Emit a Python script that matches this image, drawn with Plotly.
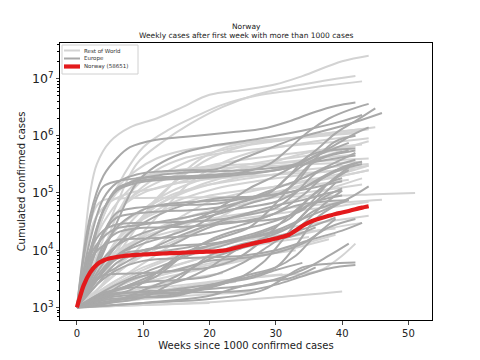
import plotly.graph_objects as go

# ---------------- data ----------------
norway_weeks = list(range(0, 45))
norway_cases = [1000, 2400, 4100, 5600, 6600, 7200, 7600, 7900, 8100, 8250,
                8400, 8500, 8650, 8750, 8850, 8950, 9050, 9150, 9250, 9350,
                9450, 9550, 9800, 10300, 11000, 11800, 12600, 13400, 14200, 15000,
                16000, 17100, 18600, 22000, 26500, 30500, 34000, 37000, 40000, 43000,
                45500, 48500, 52000, 55500, 58651]

rest_weeks = [
    [0, 1, 2, 3, 5, 8, 12, 16, 20, 25, 30, 34, 40, 44],
    [0, 2, 4, 6, 9, 13, 17, 22, 27, 32, 37, 42],
    [0, 2, 4, 7, 10, 14, 18, 22, 27, 33, 38, 43],
    [0, 2, 4, 6, 8, 12, 16, 20, 26, 32, 38, 45],
    [0, 3, 6, 9, 12, 16, 20, 25, 30, 35, 40, 43],
    [0, 3, 6, 10, 14, 18, 22, 27, 32, 37, 42],
    [0, 2, 4, 7, 10, 14, 18, 22, 28, 34, 40, 44],
    [0, 3, 6, 9, 13, 17, 21, 26, 31, 36, 42],
    [0, 2, 5, 8, 12, 16, 20, 25, 30, 36, 42],
    [0, 1, 2, 3, 5, 8, 12, 16, 20, 25, 30, 35, 40, 44],
    [0, 1, 2, 3, 4, 6, 10, 20, 30, 40, 45, 51],
    [0, 2, 5, 9, 14, 20, 26, 32, 38, 46],
    [0, 4, 8, 14, 20, 26, 32, 38, 43],
    [0, 5, 10, 20, 30, 35, 37, 40, 42],
    [0, 5, 10, 20, 30, 40],
    [0, 5, 10, 15, 20, 27],
    [0, 4, 8, 14, 20, 26, 32, 39],
    [0, 5, 10, 16, 22, 28, 33, 38],
    [0, 10, 20],
    [0, 4, 8, 12, 17, 22],
    [0, 5, 10, 15, 20, 25, 31],
    [0, 3, 6, 10, 15, 20, 25, 30, 35, 40, 43],
    [0, 2, 4, 7, 11, 15, 20, 26, 32, 38, 44],
    [0, 3, 6, 9, 13, 18, 24, 30, 36, 42],
    [0, 2, 4, 6, 9, 13, 18, 24, 30, 36, 43],
    [0, 1, 2, 4, 7, 10, 15, 20, 26, 32, 38, 44],
    [0, 3, 7, 11, 15, 20, 25, 30, 35, 40, 44],
    [0, 4, 8, 12, 16, 21, 26, 31, 36, 41],
    [0, 3, 6, 10, 14, 19, 24, 29, 34, 39, 43],
    [0, 2, 5, 8, 12, 17, 22, 28, 34, 40, 44],
    [0, 4, 9, 14, 20, 26, 32, 38, 44],
    [0, 3, 6, 10, 15, 21, 27, 33, 39],
    [0, 2, 4, 6, 10, 15, 20, 25, 30, 35, 40, 44],
    [0, 2, 4, 7, 10, 14, 19, 24, 30, 36, 42],
    [0, 3, 6, 9, 13, 18, 23, 28, 33, 38, 43],
    [0, 2, 4, 6, 9, 12, 16, 20, 25, 30, 35, 40, 44],
    [0, 3, 6, 9, 12, 16, 20, 24, 28, 32, 36, 40],
    [0, 5, 10, 15, 20, 25, 30, 35],
    [0, 4, 8, 12, 17, 22, 27, 33],
    [0, 6, 12, 18, 24],
    [0, 5, 10, 15],
    [0, 3, 6, 9, 12, 16, 20, 25, 30, 35, 40, 44],
    [0, 2, 5, 8, 12, 16, 21, 27, 33, 39, 44],
]
rest_cases = [
    [1000, 10000, 100000, 320000, 790000, 1400000, 2000000, 3200000, 5200000, 6300000, 7900000, 11000000, 20000000, 25000000],
    [1000, 4000, 16000, 63000, 320000, 790000, 1600000, 3200000, 5200000, 7100000, 9000000, 11000000],
    [1000, 10000, 40000, 200000, 630000, 1300000, 2200000, 3500000, 5000000, 6300000, 7600000, 8900000],
    [1000, 3000, 10000, 40000, 100000, 250000, 400000, 500000, 700000, 900000, 1100000, 1400000],
    [1000, 2500, 8000, 25000, 80000, 200000, 400000, 650000, 800000, 1000000, 1200000, 1300000],
    [1000, 3000, 10000, 40000, 130000, 350000, 600000, 800000, 900000, 1000000, 1100000],
    [1000, 5000, 20000, 60000, 130000, 250000, 400000, 500000, 600000, 700000, 800000, 900000],
    [1000, 2000, 5000, 15000, 50000, 150000, 300000, 500000, 650000, 800000, 1000000],
    [1000, 6000, 30000, 80000, 150000, 220000, 300000, 380000, 450000, 550000, 650000],
    [1000, 5000, 20000, 40000, 70000, 100000, 120000, 160000, 220000, 300000, 380000, 450000, 600000, 800000],
    [1000, 6000, 30000, 60000, 75000, 80000, 82000, 84000, 86000, 90000, 95000, 100000],
    [1000, 3000, 8000, 15000, 25000, 35000, 45000, 55000, 65000, 76000],
    [1000, 1800, 3000, 5000, 8000, 12000, 17000, 24000, 30000],
    [1000, 1500, 2000, 2800, 3600, 4000, 4600, 8000, 13000],
    [1000, 1050, 1100, 1230, 1500, 1900],
    [1000, 1200, 1400, 1550, 1700, 1900],
    [1000, 1500, 2300, 3500, 5000, 7000, 11000, 18600],
    [1000, 1800, 3000, 4500, 6000, 8000, 11000, 15500],
    [1000, 1100, 1200],
    [1000, 1400, 1900, 2500, 3200, 4000],
    [1000, 1300, 1700, 2200, 2700, 3200, 3800],
    [1000, 2000, 4000, 8000, 15000, 25000, 40000, 60000, 90000, 140000, 180000],
    [1000, 4000, 12000, 30000, 60000, 100000, 140000, 180000, 230000, 280000, 320000],
    [1000, 4000, 15000, 40000, 90000, 160000, 250000, 330000, 400000, 470000],
    [1000, 8000, 40000, 100000, 180000, 230000, 260000, 280000, 300000, 320000, 350000],
    [1000, 3000, 9000, 30000, 90000, 180000, 250000, 290000, 320000, 340000, 370000, 400000],
    [1000, 1800, 3500, 7000, 14000, 30000, 60000, 100000, 150000, 200000, 250000],
    [1000, 2500, 6000, 12000, 25000, 50000, 80000, 110000, 140000, 170000],
    [1000, 3000, 8000, 18000, 30000, 45000, 60000, 80000, 100000, 120000, 140000],
    [1000, 2500, 7000, 12000, 18000, 25000, 32000, 40000, 50000, 60000, 70000],
    [1000, 2000, 4000, 7000, 12000, 18000, 25000, 32000, 40000],
    [1000, 1800, 3000, 5000, 8000, 12000, 16000, 20000, 24000],
    [1000, 2500, 6000, 15000, 35000, 60000, 90000, 110000, 130000, 160000, 200000, 250000],
    [1000, 5000, 20000, 60000, 100000, 140000, 170000, 190000, 210000, 230000, 260000],
    [1000, 3000, 10000, 30000, 70000, 130000, 200000, 300000, 450000, 600000, 700000],
    [1000, 7000, 40000, 120000, 250000, 400000, 550000, 650000, 750000, 850000, 950000, 1100000, 1300000],
    [1000, 4000, 12000, 30000, 60000, 100000, 140000, 180000, 230000, 300000, 400000, 550000],
    [1000, 2000, 3500, 5500, 8000, 11000, 14000, 17000],
    [1000, 1600, 2500, 3500, 5000, 6500, 8000, 10000],
    [1000, 1400, 1800, 2300, 2800],
    [1000, 1300, 1600, 1900],
    [1000, 2000, 5000, 10000, 20000, 40000, 70000, 100000, 130000, 170000, 220000, 300000],
    [1000, 3000, 10000, 25000, 50000, 80000, 120000, 160000, 200000, 250000, 300000],
]

europe_weeks = [
    [0, 2, 4, 6, 8, 12, 16, 20, 24, 28, 32, 36, 39, 42],
    [0, 2, 4, 6, 9, 13, 17, 21, 25, 29, 32, 35, 38, 41, 44],
    [0, 2, 4, 6, 9, 13, 17, 21, 25, 29, 33, 36, 39, 42, 45],
    [0, 2, 4, 6, 9, 13, 17, 21, 25, 29, 33, 37, 41, 46],
    [0, 2, 4, 6, 9, 13, 17, 21, 25, 29, 33, 36, 39, 42, 44],
    [0, 3, 6, 9, 12, 16, 20, 25, 30, 35, 40, 43],
    [0, 3, 6, 10, 14, 18, 22, 26, 30, 33, 36, 39, 42],
    [0, 3, 6, 10, 14, 18, 22, 26, 30, 34, 38, 41],
    [0, 2, 4, 6, 9, 13, 17, 21, 25, 29, 32, 35, 38, 42],
    [0, 2, 4, 6, 9, 13, 17, 21, 25, 29, 32, 35, 38, 42],
    [0, 3, 6, 10, 14, 18, 22, 26, 29, 32, 35, 38, 41],
    [0, 3, 6, 9, 13, 17, 21, 25, 29, 33, 37, 40, 43],
    [0, 2, 4, 6, 10, 15, 20, 25, 30, 33, 36, 39, 42],
    [0, 2, 4, 6, 10, 15, 20, 25, 30, 34, 38, 42],
    [0, 3, 6, 10, 14, 18, 22, 26, 30, 34, 38, 42],
    [0, 2, 4, 6, 10, 15, 20, 25, 30, 34, 37, 40, 43],
    [0, 2, 4, 6, 9, 13, 17, 21, 25, 29, 33, 37, 41],
    [0, 3, 6, 10, 15, 20, 25, 30, 34, 38, 41, 44],
    [0, 3, 6, 10, 15, 20, 25, 30, 35, 40, 43],
    [0, 5, 10, 15, 20, 25, 28, 31, 34, 37, 40],
    [0, 4, 8, 12, 16, 20, 24, 27, 30, 33, 36, 39, 41],
    [0, 3, 6, 10, 14, 18, 22, 26, 30, 34, 38, 41],
    [0, 4, 8, 12, 16, 20, 24, 28, 32, 36, 39],
    [0, 5, 10, 15, 20, 25, 28, 31, 34, 37, 40],
    [0, 4, 8, 12, 16, 20, 24, 28, 32, 35, 38, 40],
    [0, 3, 6, 9, 12, 16, 20, 25, 30, 35, 40],
    [0, 3, 6, 10, 14, 18, 22, 26, 30, 34, 38, 40],
    [0, 5, 10, 15, 20, 25, 30, 33, 36, 39, 41],
    [0, 5, 10, 15, 20, 25, 30, 33, 36, 39],
    [0, 5, 10, 15, 20, 25, 30, 35, 39],
    [0, 4, 8, 12, 16, 20, 24, 28, 32, 36, 40],
    [0, 4, 8, 12, 16, 20, 24, 28, 32, 36, 40],
    [0, 2, 4, 8, 14, 20, 26, 30, 34, 38, 42],
    [0, 5, 10, 20, 28, 34, 38, 41],
    [0, 10, 20, 28, 34, 38, 42],
    [0, 5, 10, 20, 26, 30, 34, 38, 42],
    [0, 10, 20, 24, 28, 32, 36],
    [0, 5, 10, 15, 20, 24, 28, 32, 36],
    [0, 5, 10, 14, 18, 22, 26, 30],
    [0, 4, 8, 14, 20, 26, 30, 34],
    [0, 1, 2, 3, 4, 6, 9, 13, 18, 24, 30, 36, 42],
]
europe_cases = [
    [1000, 40000, 200000, 400000, 630000, 850000, 950000, 1050000, 1170000, 1320000, 1780000, 2630000, 3310000, 3800000],
    [1000, 8000, 50000, 120000, 160000, 180000, 190000, 200000, 230000, 320000, 600000, 1200000, 2000000, 2800000, 3600000],
    [1000, 10000, 50000, 110000, 170000, 210000, 230000, 240000, 250000, 270000, 320000, 550000, 1100000, 1800000, 3000000],
    [1000, 15000, 80000, 150000, 210000, 240000, 250000, 260000, 400000, 600000, 900000, 1200000, 1600000, 2500000],
    [1000, 9000, 50000, 110000, 150000, 170000, 180000, 190000, 210000, 240000, 300000, 450000, 700000, 1100000, 1400000],
    [1000, 5000, 30000, 150000, 300000, 500000, 650000, 800000, 1000000, 1300000, 1800000, 2300000],
    [1000, 5000, 12000, 20000, 27000, 35000, 45000, 65000, 90000, 150000, 400000, 800000, 1000000],
    [1000, 3000, 8000, 15000, 25000, 35000, 60000, 120000, 200000, 350000, 550000, 750000],
    [1000, 5000, 20000, 45000, 55000, 60000, 62000, 65000, 80000, 100000, 200000, 450000, 550000, 600000],
    [1000, 6000, 20000, 37000, 44000, 48000, 50000, 55000, 70000, 100000, 200000, 350000, 450000, 550000],
    [1000, 3000, 7000, 8500, 10000, 12000, 17000, 25000, 50000, 120000, 300000, 450000, 550000],
    [1000, 4000, 12000, 25000, 45000, 65000, 80000, 85000, 90000, 110000, 180000, 280000, 350000],
    [1000, 10000, 22000, 28000, 30000, 31000, 33000, 40000, 55000, 100000, 220000, 300000, 380000],
    [1000, 8000, 17000, 24000, 28000, 35000, 45000, 55000, 70000, 120000, 220000, 330000],
    [1000, 3000, 8000, 13000, 18000, 27000, 50000, 80000, 120000, 180000, 300000, 500000],
    [1000, 7000, 12000, 15000, 16000, 17000, 20000, 28000, 45000, 90000, 180000, 260000, 320000],
    [1000, 3000, 12000, 20000, 24000, 25000, 26000, 28000, 32000, 40000, 60000, 70000, 75000],
    [1000, 2500, 6000, 10000, 12000, 13000, 16000, 22000, 35000, 55000, 80000, 130000],
    [1000, 2500, 4500, 6500, 7200, 7500, 8000, 10000, 15000, 22000, 30000],
    [1000, 1800, 2700, 3000, 3500, 6000, 10000, 17000, 28000, 60000, 110000],
    [1000, 1600, 3000, 4000, 4500, 5000, 7000, 12000, 25000, 50000, 100000, 180000, 250000],
    [1000, 3500, 8000, 10000, 12000, 20000, 30000, 32000, 35000, 50000, 150000, 280000],
    [1000, 1800, 2200, 2300, 3000, 5000, 10000, 16000, 25000, 70000, 150000],
    [1000, 1300, 1500, 1700, 2200, 3500, 6000, 15000, 40000, 80000, 120000],
    [1000, 1700, 2500, 4000, 8000, 12000, 16000, 22000, 35000, 80000, 150000, 180000],
    [1000, 6000, 25000, 45000, 60000, 68000, 72000, 80000, 95000, 120000, 160000],
    [1000, 3000, 5000, 9000, 15000, 23000, 33000, 45000, 60000, 75000, 100000, 110000],
    [1000, 1400, 1500, 1600, 2300, 3200, 5000, 12000, 35000, 60000, 75000],
    [1000, 1500, 1700, 1800, 2400, 3500, 5000, 8000, 18000, 35000],
    [1000, 1200, 2000, 3500, 7000, 11000, 17000, 25000, 37000],
    [1000, 1700, 2400, 3500, 8000, 15000, 22000, 28000, 40000, 70000, 90000],
    [1000, 1600, 2000, 4000, 9000, 12000, 15000, 18000, 25000, 50000, 70000],
    [1000, 2500, 3600, 3900, 4300, 6500, 7500, 9000, 13000, 25000, 35000],
    [1000, 1600, 1900, 2100, 2700, 4500, 8000, 13000],
    [1000, 1200, 1400, 2000, 5000, 5800, 6100],
    [1000, 1700, 1800, 1850, 2000, 2500, 3500, 4800, 5500],
    [1000, 1200, 1600, 2200, 2800, 3200, 5000],
    [1000, 1200, 1500, 3000, 8000, 12000, 15000, 17000, 25000],
    [1000, 2200, 4000, 6000, 9000, 12000, 17000, 25000],
    [1000, 1200, 1500, 2000, 2500, 3200, 4500, 6000],
    [1000, 7000, 30000, 80000, 130000, 160000, 180000, 190000, 200000, 220000, 250000, 350000, 450000],
]

title_lines = ["Norway", "Weekly cases after first week with more than 1000 cases"]
x_label = "Weeks since 1000 confirmed cases"
y_label = "Cumulated confirmed cases"
x_ticks = [0, 10, 20, 30, 40, 50]

COL_ROW = "#d3d3d3"
COL_EU = "#a9a9a9"
COL_NO = "#e31a1c"
legend_labels = ["Rest of World", "Europe", f"Norway ({norway_cases[-1]})"]
legend_colors = [COL_ROW, COL_EU, COL_NO]
legend_widths = [2, 2, 4.2]

# ---------------- figure ----------------
FONT = "DejaVu Sans"
OFF = 8  # default page body margin in the written html
# target plot area in the screenshot: x 60..432, y 43..320
L, R, T, B = 60 - OFF, 48, 43 - OFF, 40
W, H = 480 - OFF, 360 - OFF
PW, PH = W - L - R, H - T - B

fig = go.Figure()

for wk, cs in zip(rest_weeks, rest_cases):
    fig.add_trace(go.Scatter(
        x=wk, y=cs, mode="lines", showlegend=False, hoverinfo="skip",
        line=dict(color=COL_ROW, width=2, shape="spline", smoothing=1.0)))

for wk, cs in zip(europe_weeks, europe_cases):
    fig.add_trace(go.Scatter(
        x=wk, y=cs, mode="lines", showlegend=False, hoverinfo="skip",
        line=dict(color=COL_EU, width=2, shape="spline", smoothing=1.0)))

fig.add_trace(go.Scatter(
    x=norway_weeks, y=norway_cases, mode="lines", showlegend=False, hoverinfo="skip",
    line=dict(color=COL_NO, width=4.2, shape="spline", smoothing=0.6)))


# screen-pixel -> paper coordinates
def px_x(p):
    return (p - OFF - L) / PW


def px_y(p):
    return (OFF + H - B - p) / PH


# custom compact legend (matplotlib-like)
shapes = [dict(type="rect", xref="paper", yref="paper",
               x0=px_x(62), x1=px_x(138), y0=px_y(74), y1=px_y(45),
               line=dict(color="#d0d0d0", width=1), fillcolor="rgba(255,255,255,0.85)",
               layer="above")]
annotations = []
for k, (lab, col, lw) in enumerate(zip(legend_labels, legend_colors, legend_widths)):
    yy = 50.5 + k * 8
    shapes.append(dict(type="line", xref="paper", yref="paper",
                       x0=px_x(64), x1=px_x(80), y0=px_y(yy), y1=px_y(yy),
                       line=dict(color=col, width=lw), layer="above"))
    annotations.append(dict(text=lab, xref="paper", yref="paper", x=px_x(82), y=px_y(yy),
                            xanchor="left", yanchor="middle", showarrow=False,
                            font=dict(size=5.5, family=FONT, color="#333333")))

# title as two annotations at the reference positions
for txt, yc in zip(title_lines, [26, 35]):
    annotations.append(dict(text=txt, xref="paper", yref="paper", x=0.5, y=px_y(yc),
                            xanchor="center", yanchor="middle", showarrow=False,
                            font=dict(size=7.5, family=FONT, color="#222222")))

fig.update_layout(
    width=W, height=H,
    margin=dict(l=L, r=R, t=T, b=B),
    paper_bgcolor="white", plot_bgcolor="white",
    font=dict(family=FONT, color="#222222", size=10),
    showlegend=False,
    shapes=shapes,
    annotations=annotations,
)

fig.update_xaxes(
    range=[-2.55, 53.55], tickvals=x_ticks, ticks="outside", ticklen=3.5,
    showline=True, linecolor="black", linewidth=1, mirror=True, automargin=False,
    showgrid=False, zeroline=False, tickfont=dict(size=10),
    title=dict(text=x_label, font=dict(size=10), standoff=4))

fig.update_yaxes(
    type="log", range=[2.78, 7.62], dtick=1, exponentformat="power",
    ticks="outside", ticklen=3.5,
    minor=dict(ticks="outside", ticklen=2, dtick="D1", showgrid=False, tickcolor="black"),
    showline=True, linecolor="black", linewidth=1, mirror=True, automargin=False,
    showgrid=False, zeroline=False, tickfont=dict(size=10),
    title=dict(text=y_label, font=dict(size=10), standoff=4))

fig.write_html("out.html")
